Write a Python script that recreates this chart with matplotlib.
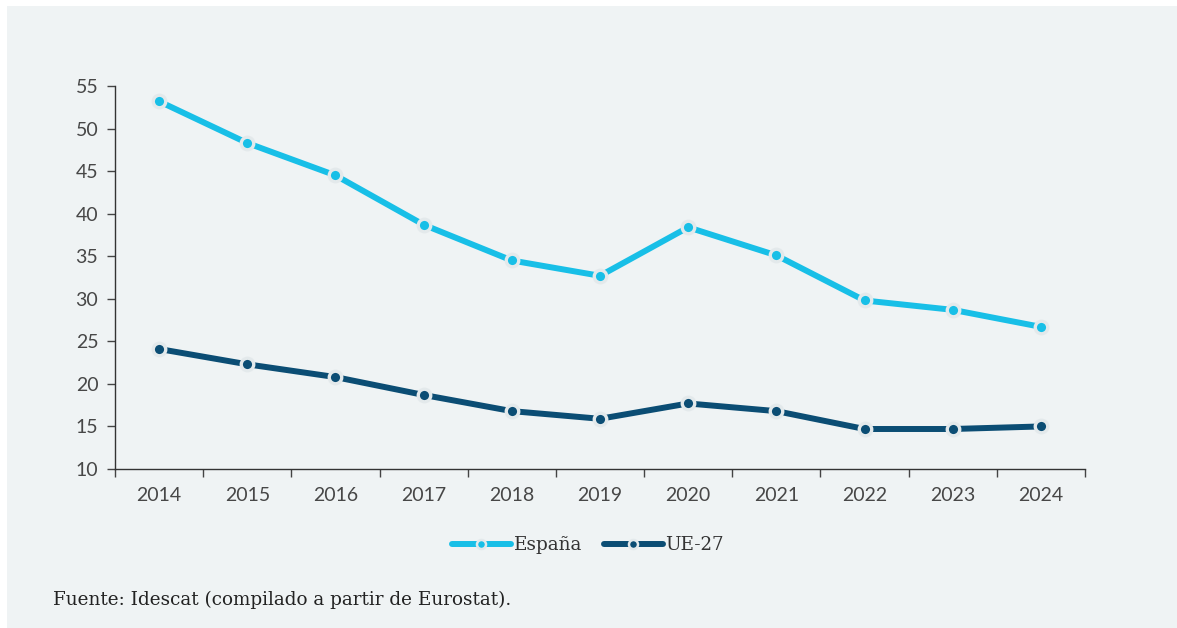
import matplotlib
matplotlib.use("Agg")
import matplotlib.pyplot as plt
from matplotlib.patches import Rectangle
from matplotlib.lines import Line2D

years = ["2014", "2015", "2016", "2017", "2018", "2019", "2020", "2021", "2022", "2023", "2024"]
espana = [53.2, 48.3, 44.5, 38.7, 34.5, 32.7, 38.4, 35.1, 29.8, 28.7, 26.7]
ue27 = [24.1, 22.3, 20.8, 18.7, 16.8, 15.9, 17.7, 16.8, 14.7, 14.7, 15.0]
series_names = ["España", "UE-27"]
yticks = [10, 15, 20, 25, 30, 35, 40, 45, 50, 55]
source = "Fuente: Idescat (compilado a partir de Eurostat)."

c_es = "#18bfe7"
c_ue = "#0b4d74"
bg = "#eff3f4"
halo = "#e3e9eb"
W, H = 1177, 628

fig = plt.figure(figsize=(W / 100, H / 100), dpi=100, facecolor="white")
fig.patches.append(Rectangle((7 / W, 0), 1 - 7 / W, 1 - 6 / H, transform=fig.transFigure,
                             facecolor=bg, edgecolor="none", zorder=-10))

ax = fig.add_axes([115 / W, (H - 469) / H, (1085 - 115) / W, (469 - 86) / H])
ax.set_facecolor("none")

x = list(range(len(years)))
for vals, col, name in [(espana, c_es, series_names[0]), (ue27, c_ue, series_names[1])]:
    ax.plot(x, vals, color=col, lw=4.3, solid_capstyle="round", zorder=3, label=name)
    ax.plot(x, vals, ls="none", marker="o", ms=9, mfc=col, mec=halo, mew=2.4, zorder=4)

ax.set_xlim(-0.5, len(years) - 0.5)
ax.set_ylim(10, 55)
ax.set_yticks(yticks)
ax.set_yticklabels([str(v) for v in yticks])
ax.set_xticks(x)
ax.set_xticklabels(years)
ax.set_xticks([i - 0.5 for i in range(len(years) + 1)], minor=True)
ax.tick_params(axis="x", which="major", length=0, pad=13)
ax.tick_params(axis="x", which="minor", length=6, color="#444444", width=1)
ax.tick_params(axis="y", length=6, color="#444444", width=1, pad=6)
for lab in ax.get_xticklabels() + ax.get_yticklabels():
    lab.set_fontfamily(["Lato", "DejaVu Sans"])
    lab.set_fontweight("normal")
    lab.set_fontsize(14)
    lab.set_color("#474747")
for s in ["top", "right"]:
    ax.spines[s].set_visible(False)
for s in ["left", "bottom"]:
    ax.spines[s].set_color("#333333")
    ax.spines[s].set_linewidth(1)

handles = [Line2D([0], [0], color=c, lw=4.3, marker="o", ms=6.5, mfc=c, mec=halo, mew=1.8,
                  solid_capstyle="round") for c in (c_es, c_ue)]
leg = fig.legend(handles, series_names, loc="center", bbox_to_anchor=(588 / W, (H - 545) / H),
                 ncol=2, frameon=False, handlelength=3.2, handletextpad=0.15, columnspacing=1.2,
                 prop={"family": "DejaVu Serif", "size": 13.2})
for t in leg.get_texts():
    t.set_color("#333333")

fig.text(53 / W, (H - 600) / H, source, ha="left", va="center", fontsize=13.2,
         family="DejaVu Serif", color="#222222")

fig.savefig("out.png", dpi=100, facecolor="white")
